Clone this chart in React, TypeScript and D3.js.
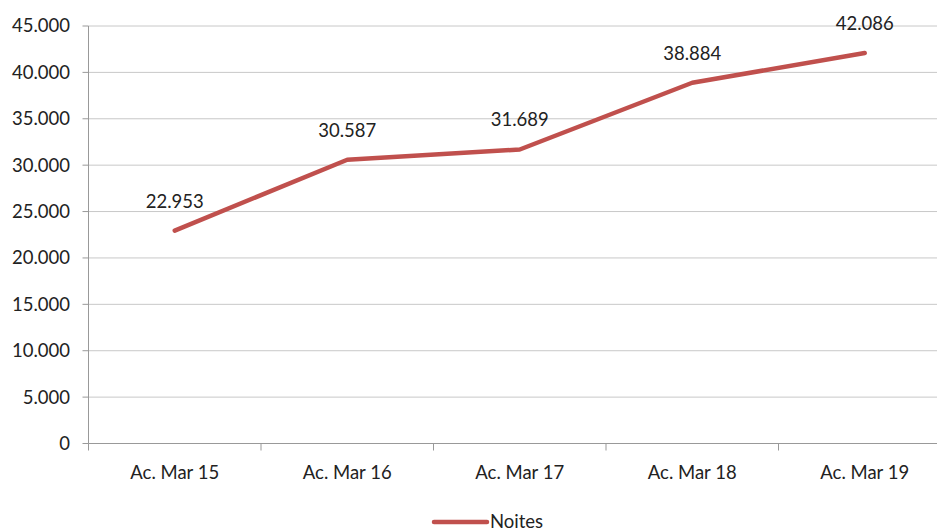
import React from "react";
import * as d3 from "d3";

const categories = ["Ac. Mar 15", "Ac. Mar 16", "Ac. Mar 17", "Ac. Mar 18", "Ac. Mar 19"];
const values = [22953, 30587, 31689, 38884, 42086];
const yTicks = [0, 5000, 10000, 15000, 20000, 25000, 30000, 35000, 40000, 45000];
const seriesName = "Noites";

const W = 937;
const H = 531;
const left = 88.5;
const right = 951;
const top = 26;
const bottom = 443.5;
const font = "Lato, 'Open Sans', sans-serif";
const fs = 18.5;
const fmt = (v: number) => d3.format(",")(v).replace(/,/g, ".");

export default function App() {
  const x = d3.scaleBand<string>().domain(categories).range([left, right]);
  const y = d3.scaleLinear().domain([0, 45000]).range([bottom, top]);
  const cx = (c: string) => (x(c) as number) + x.bandwidth() / 2;
  const line = d3
    .line<number>()
    .x((_, i) => cx(categories[i]))
    .y((d) => y(d));
  const tickXs = categories.map((c) => x(c) as number);
  return (
    <svg
      width={W}
      height={H}
      style={{ position: "absolute", left: 0, top: 0, background: "#fff" }}
      fontFamily={font}
    >
      {yTicks.map((t) => (
        <g key={t}>
          {t > 0 && (
            <line x1={left} x2={W} y1={y(t)} y2={y(t)} stroke="#c8c8c8" strokeWidth={1} />
          )}
          <line x1={left - 6} x2={left} y1={y(t)} y2={y(t)} stroke="#999" strokeWidth={1} />
          <text x={70} y={y(t)} dy="0.35em" textAnchor="end" fontSize={fs} fill="#222">
            {fmt(t)}
          </text>
        </g>
      ))}
      <line x1={left} x2={left} y1={top} y2={bottom} stroke="#999" strokeWidth={1} />
      <line x1={left} x2={W} y1={bottom} y2={bottom} stroke="#999" strokeWidth={1} />
      {tickXs.map((tx, i) => (
        <line key={i} x1={tx} x2={tx} y1={bottom} y2={bottom + 7} stroke="#999" strokeWidth={1} />
      ))}
      {categories.map((c) => (
        <text key={c} x={cx(c)} y={479} textAnchor="middle" fontSize={fs} fill="#222">
          {c}
        </text>
      ))}
      <path
        d={line(values) || ""}
        fill="none"
        stroke="#c0504d"
        strokeWidth={4.5}
        strokeLinejoin="round"
        strokeLinecap="round"
      />
      {values.map((v, i) => (
        <text
          key={i}
          x={cx(categories[i])}
          y={y(v) - 23}
          textAnchor="middle"
          fontSize={fs}
          fill="#222"
        >
          {fmt(v)}
        </text>
      ))}
      <line x1={434} x2={487} y1={522} y2={522} stroke="#c0504d" strokeWidth={4.5} strokeLinecap="round" />
      <text x={490} y={528} fontSize={fs} fill="#222">
        {seriesName}
      </text>
    </svg>
  );
}
